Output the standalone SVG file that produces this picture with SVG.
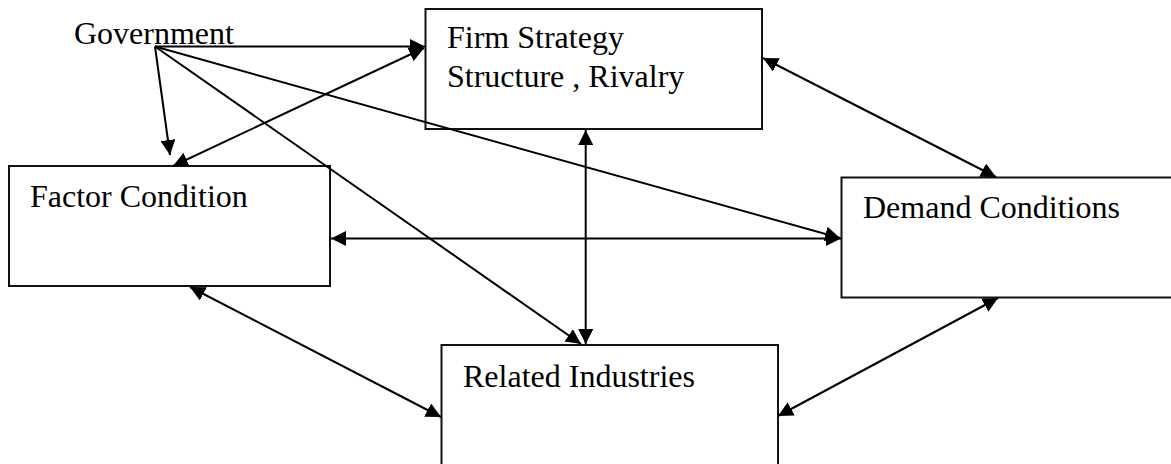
<svg xmlns="http://www.w3.org/2000/svg" width="1171" height="464" viewBox="0 0 1171 464">
<style>
.box{fill:#fff;stroke:#111;stroke-width:2}
.lbl{font-family:"Liberation Serif","Times New Roman",serif;font-size:32px;fill:#000}
.c{stroke:#000;stroke-width:2;fill:none}
.e{marker-end:url(#ah)}
.b{marker-start:url(#ah);marker-end:url(#ah)}
</style>
<defs>
<marker id="ah" markerUnits="userSpaceOnUse" markerWidth="16" markerHeight="15" refX="15" refY="7.5" orient="auto-start-reverse" viewBox="0 0 16 15">
<path d="M0,0 L15,7.5 L0,15 z" fill="#000"/>
</marker>
</defs>
<rect width="1171" height="464" fill="#fff"/>
<g id="firm"><rect class="box" x="425.5" y="9" width="336.5" height="120"/><text class="lbl" x="447" y="48">Firm Strategy</text><text class="lbl" x="447" y="87">Structure , Rivalry</text></g>
<g id="factor"><rect class="box" x="9" y="166" width="321" height="120"/><text class="lbl" x="30" y="207">Factor Condition</text></g>
<g id="demand"><rect class="box" x="841.5" y="177.5" width="340" height="120"/><text class="lbl" x="863" y="218">Demand Conditions</text></g>
<g id="related"><rect class="box" x="441.5" y="345" width="336.5" height="130"/><text class="lbl" x="463" y="387">Related Industries</text></g>
<g id="government"><text class="lbl" x="74" y="44">Government</text></g>
<g id="connectors">
<path class="c e" d="M155,46.5 L425,46.5"/>
<path class="c e" d="M155,46.5 L170,155"/>
<path class="c b" d="M424,48 L173,166"/>
<path class="c e" d="M155,46.5 L581,344"/>
<path class="c e" d="M155,46.5 L840,238"/>
<path class="c b" d="M331,238.5 L841,238.5"/>
<path class="c b" d="M585.7,130 L585.7,344"/>
<path class="c b" d="M763,58 L996,177"/>
<path class="c b" d="M190,287 L441,417"/>
<path class="c b" d="M998,298 L778,416"/>
</g>
</svg>
